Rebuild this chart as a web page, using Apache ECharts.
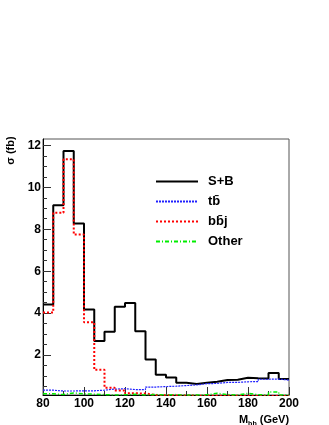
<!DOCTYPE html>
<html>
<head>
<meta charset="utf-8">
<script src="https://cdn.jsdelivr.net/npm/echarts@6/dist/echarts.min.js"></script>
<style>
  html, body { margin: 0; padding: 0; background: #fff; }
  #chart { width: 329px; height: 425px; }
</style>
</head>
<body>
<div id="chart"></div>
<script>
;(function () {
  // bin edges in GeV (5 GeV bins)
  const edges = [80, 85, 90, 95, 100, 105, 110, 115, 120, 125, 130, 135, 140,
    145, 150, 155, 160, 165, 170, 175, 180, 185, 190, 195, 200]

  const seriesNames = ['S+B', 'tb\u0304', 'bb\u0304j', 'Other']

  const sigPlusBkg = [4.41, 9.14, 11.73, 8.27, 4.18, 2.67, 3.11, 4.30, 4.49, 3.14, 1.79, 1.07,
    0.93, 0.68, 0.62, 0.68, 0.73, 0.82, 0.83, 0.92, 0.90, 0.89, 1.15, 0.86]
  const ttbar = [0.33, 0.29, 0.29, 0.30, 0.30, 0.33, 0.38, 0.40, 0.36, 0.36, 0.48, 0.50,
    0.52, 0.55, 0.58, 0.64, 0.65, 0.70, 0.70, 0.73, 0.74, 0.85, 0.86, 0.81]
  const bbj = [4.03, 8.78, 11.33, 7.75, 3.57, 1.30, 0.45, 0.32, 0.18, 0.17, 0.10, 0.09,
    0.08, 0.08, 0.07, 0.07, 0.06, 0.06, 0.06, 0.05, 0.05, 0.05, 0.05, 0.05]
  const other = [0.16, 0.12, 0.20, 0.15, 0.14, 0.12, 0.10, 0.11, 0.13, 0.10, 0.12, 0.10,
    0.12, 0.09, 0.10, 0.11, 0.18, 0.12, 0.10, 0.18, 0.11, 0.10, 0.24, 0.10]

  const yMajor = [2, 4, 6, 8, 10, 12]
  const yMinor = [0.5, 1, 1.5, 2.5, 3, 3.5, 4.5, 5, 5.5, 6.5, 7, 7.5, 8.5, 9, 9.5,
    10.5, 11, 11.5, 12]

  const font = 'Liberation Sans, Arial, sans-serif'

  function histo(values) {
    return edges.map((e, i) => [e, values[Math.min(i, values.length - 1)]])
  }

  function line(name, values, color, width, type) {
    return {
      name,
      type: 'line',
      step: 'end',
      symbol: 'none',
      data: histo(values),
      lineStyle: { color, width, type },
      itemStyle: { color },
      emphasis: { disabled: true },
    }
  }

  const chart = echarts.init(document.getElementById('chart'))

  chart.setOption({
    animation: false,
    grid: {
      left: 43, right: 40, top: 139, bottom: 30,
      outerBoundsMode: 'none',
      containLabel: false,
      show: true, borderColor: '#555', borderWidth: 1,
    },
    legend: {
      orient: 'vertical',
      left: 155,
      top: 175,
      padding: 0,
      itemWidth: 42,
      itemHeight: 14,
      itemGap: 7,
      data: seriesNames,
      itemStyle: { opacity: 0 },
      textStyle: { fontFamily: font, fontWeight: 'bold', fontSize: 13, color: '#000', padding: [0, 0, 0, 5] },
    },
    xAxis: {
      type: 'value',
      min: 80,
      max: 200,
      interval: 20,
      axisLine: { lineStyle: { color: '#000', width: 1 } },
      axisTick: { inside: true, length: 8, lineStyle: { color: '#333' } },
      minorTick: { show: true, splitNumber: 2, length: 4, lineStyle: { color: '#333' } },
      splitLine: { show: false },
      axisLabel: { margin: 3, fontFamily: font, fontWeight: 'bold', fontSize: 12, color: '#000' },
      name: '{m|M}{s|bb}{m| (GeV)}',
      nameLocation: 'middle',
      nameGap: 12,
      nameTextStyle: {
        padding: [0, 0, 0, 196],
        rich: {
          m: { fontFamily: font, fontWeight: 'bold', fontSize: 11, color: '#000' },
          s: { fontFamily: font, fontWeight: 'bold', fontSize: 7, color: '#000', padding: [7, 0, 0, 0] },
        },
      },
    },
    yAxis: [
      {
        type: 'value',
        min: 0.1,
        max: 12.3,
        axisLine: { show: true, lineStyle: { color: '#000', width: 1 } },
        axisTick: { inside: true, length: 8, customValues: yMajor, lineStyle: { color: '#333' } },
        splitLine: { show: false },
        axisLabel: { customValues: yMajor, margin: 2, fontFamily: font, fontWeight: 'bold', fontSize: 12, color: '#000' },
        name: 'σ (fb)',
        nameLocation: 'middle',
        nameGap: 23,
        nameTextStyle: {
          padding: [0, 0, 0, 233],
          fontFamily: font, fontWeight: 'bold', fontSize: 11, color: '#000',
        },
      },
      {
        type: 'value',
        min: 0.1,
        max: 12.3,
        position: 'left',
        axisLine: { show: false },
        axisTick: { show: true, inside: true, length: 4, customValues: yMinor, lineStyle: { color: '#333' } },
        axisLabel: { show: false },
        splitLine: { show: false },
      },
    ],
    series: [
      line(seriesNames[0], sigPlusBkg, '#000000', 2, 'solid'),
      line(seriesNames[1], ttbar, '#2020ff', 1.2, [2, 1]),
      line(seriesNames[2], bbj, '#ff0000', 2, [2, 2]),
      line(seriesNames[3], other, '#00ee00', 1.5, [4, 2, 1, 2]),
    ],
  })
})()
</script>
</body>
</html>
